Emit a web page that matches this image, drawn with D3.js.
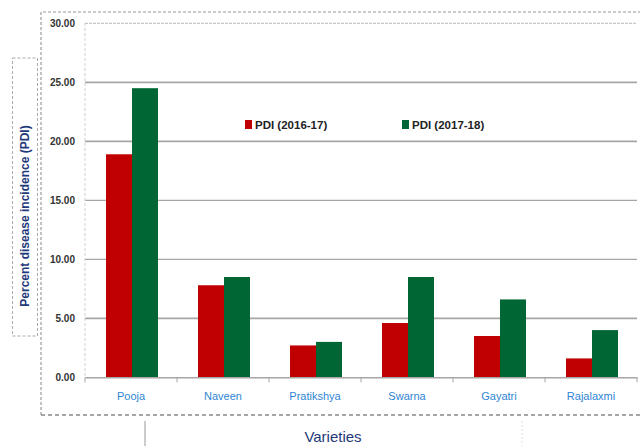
<!DOCTYPE html>
<html><head><meta charset="utf-8">
<script src="https://cdn.jsdelivr.net/npm/d3@7"></script>
<style>body{margin:0;background:#fff}svg{display:block}</style>
</head><body><svg id="c" width="640" height="446"></svg>
<script>
const categories = ["Pooja","Naveen","Pratikshya","Swarna","Gayatri","Rajalaxmi"];
const seriesNames = ["PDI (2016-17)","PDI (2017-18)"];
const pdi2016 = [18.9, 7.8, 2.7, 4.6, 3.5, 1.6];
const pdi2017 = [24.5, 8.5, 3.0, 8.5, 6.6, 4.0];
const yTicks = [0,5,10,15,20,25,30];
const colors = ["#c00000","#006633"];

const svg = d3.select("#c");
const x0 = d3.scaleBand().domain(categories).range([85,637]).padding(0);
const x1 = d3.scaleBand().domain(seriesNames).range([21, 73]);
const y = d3.scaleLinear().domain([0,30]).range([377.3,23.3]);

// outer dashed chart border
svg.append("path").attr("d","M41,415 V12 H640").attr("fill","none")
  .attr("stroke","#9a9a9a").attr("stroke-width",1.2).attr("stroke-dasharray","3,2");
svg.append("line").attr("x1",41).attr("x2",640).attr("y1",415).attr("y2",415)
  .attr("stroke","#8a8a8a").attr("stroke-width",1.5).attr("stroke-dasharray","4,3");

// y-title box
svg.append("rect").attr("x",12.5).attr("y",58).attr("width",25).attr("height",278)
  .attr("fill","none").attr("stroke","#aaa").attr("stroke-dasharray","3,2");
// x title box lines
svg.append("line").attr("x1",145).attr("x2",145).attr("y1",421).attr("y2",446).attr("stroke","#999");
svg.append("line").attr("x1",522).attr("x2",522).attr("y1",421).attr("y2",446).attr("stroke","#ddd").attr("stroke-dasharray","2,2");

// gridlines
const grid = svg.append("g");
yTicks.filter(d=>d>0).forEach(t=>{
  grid.append("line").attr("x1",85).attr("x2",637).attr("y1",y(t)).attr("y2",y(t))
    .attr("stroke", t===30 ? "#c8c8c8" : "#a6a6a6")
    .attr("stroke-width", (t===20||t===5||t===25)?1.8:1.3)
    .attr("stroke-dasharray", t===30 ? "3,1" : null);
});
// left axis line
svg.append("line").attr("x1",85).attr("x2",85).attr("y1",23).attr("y2",377)
  .attr("stroke","#cfcfcf").attr("stroke-dasharray","3,2");

// y axis labels
const yAxis = d3.axisLeft(y).tickValues(yTicks).tickFormat(d3.format(".2f")).tickSize(0).tickPadding(10);
const yg = svg.append("g").attr("transform","translate(85,0)").call(yAxis);
yg.select(".domain").remove();
yg.selectAll("text").attr("font-family","Liberation Sans, Arial").attr("font-weight","bold")
  .attr("font-size","10px").attr("fill","#333");

// bars
const groups = svg.append("g").selectAll("g").data(categories).join("g")
  .attr("transform", d=>`translate(${x0(d)},0)`);
groups.selectAll("rect").data((d,i)=>[pdi2016[i],pdi2017[i]].map((v,j)=>({v,s:seriesNames[j],j})))
  .join("rect")
  .attr("x", d=>x1(d.s)).attr("width", x1.bandwidth())
  .attr("y", d=>y(d.v)).attr("height", d=>y(0)-y(d.v))
  .attr("fill", d=>colors[d.j]);

// x axis
const xAxis = d3.axisBottom(x0).tickSize(0).tickPadding(15);
const xg = svg.append("g").attr("transform",`translate(0,${y(0)})`).call(xAxis);
xg.select(".domain").attr("stroke","#a6a6a6").attr("stroke-width",1.5);
xg.selectAll("text").attr("font-family","Liberation Sans, Arial")
  .attr("font-size","11px").attr("fill","#2f86d4");
// boundary ticks
categories.forEach(c=>{
  xg.append("line").attr("x1",x0(c)).attr("x2",x0(c)).attr("y1",0).attr("y2",5).attr("stroke","#a6a6a6");
});
xg.append("line").attr("x1",637).attr("x2",637).attr("y1",0).attr("y2",5).attr("stroke","#a6a6a6");

// legend
const leg = svg.append("g");
const legPos = [245, 402];
seriesNames.forEach((s,i)=>{
  leg.append("rect").attr("x",legPos[i]).attr("y",120).attr("width",7).attr("height",9).attr("fill",colors[i]);
  leg.append("text").attr("x",legPos[i]+10).attr("y",128.5).text(s)
    .attr("font-family","Liberation Sans, Arial").attr("font-weight","bold")
    .attr("font-size","11.5px").attr("fill","#222");
});

// axis titles
svg.append("text").attr("transform","translate(29,216) rotate(-90)").attr("text-anchor","middle")
  .attr("font-family","Liberation Sans, Arial").attr("font-weight","bold").attr("font-size","12px")
  .attr("fill","#1f3a7a").text("Percent disease incidence (PDI)");
svg.append("text").attr("x",333).attr("y",442).attr("text-anchor","middle")
  .attr("font-family","Liberation Sans, Arial").attr("font-size","15px")
  .attr("fill","#1f3a7a").text("Varieties");
</script></body></html>
